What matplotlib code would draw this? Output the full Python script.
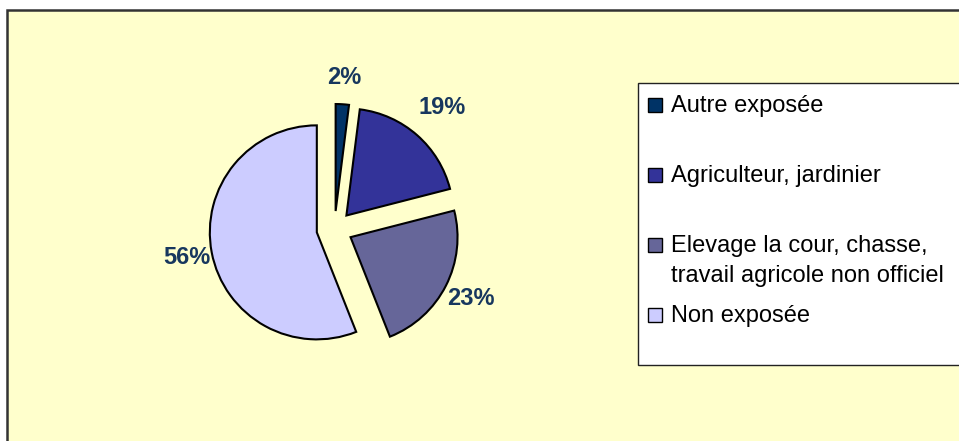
import numpy as np
import matplotlib.pyplot as plt
from matplotlib.patches import Rectangle

categories = ["Autre exposée", "Agriculteur, jardinier",
              "Elevage la cour, chasse,\ntravail agricole non officiel",
              "Non exposée"]
values = [2, 19, 23, 56]
colors = ["#003366", "#333399", "#666699", "#CCCCFF"]

W, H = 959, 441
fig = plt.figure(figsize=(W / 100, H / 100), dpi=100)
fig.patch.set_facecolor("white")

def fx(px):
    return px / W

def fy(py):
    return 1 - py / H

# chart area
fig.patches.append(Rectangle((fx(7), fy(460)), fx(1000), 450 / H, transform=fig.transFigure,
                             facecolor="#FFFFCC", edgecolor="#333333", lw=1.8, zorder=0))

# pie
cx, cy, half = 334.5, 229, 200
ax = fig.add_axes([fx(cx - half), fy(cy + half), 2 * half / W, 2 * half / H])
ax.set_zorder(5)
wedges, _ = ax.pie(values, colors=colors, startangle=90, counterclock=False,
                   radius=1.07, explode=[0.18] * 4,
                   wedgeprops=dict(edgecolor="black", linewidth=1.5))
ax.set_xlim(-2, 2)
ax.set_ylim(-2, 2)
ax.set_facecolor("none")

label_dist = [1.25, 1.35, 1.26, 1.24]
for w, v, d in zip(wedges, values, label_dist):
    th = np.deg2rad((w.theta1 + w.theta2) / 2)
    x0, y0 = w.center
    ax.text(x0 + w.r * d * np.cos(th), y0 + w.r * d * np.sin(th), f"{v}%",
            ha="center", va="center", fontsize=17, fontweight="bold",
            color="#17375E", family="Liberation Sans")

# legend
fig.patches.append(Rectangle((fx(638), fy(365)), fx(400), (365 - 83) / H, transform=fig.transFigure,
                             facecolor="white", edgecolor="#222222", lw=1.0, zorder=1))
baselines = [112, 182, 252, 322]
for lab, c, b in zip(categories, colors, baselines):
    fig.patches.append(Rectangle((fx(648), fy(b)), 14 / W, 14 / H, transform=fig.transFigure,
                                 facecolor=c, edgecolor="black", lw=1.0, zorder=2))
    for k, line in enumerate(lab.split("\n")):
        fig.text(fx(671), fy(b + 30 * k), line, ha="left", va="baseline", fontsize=17,
                 family="Liberation Sans", zorder=3)

fig.savefig("out.png", dpi=100)
